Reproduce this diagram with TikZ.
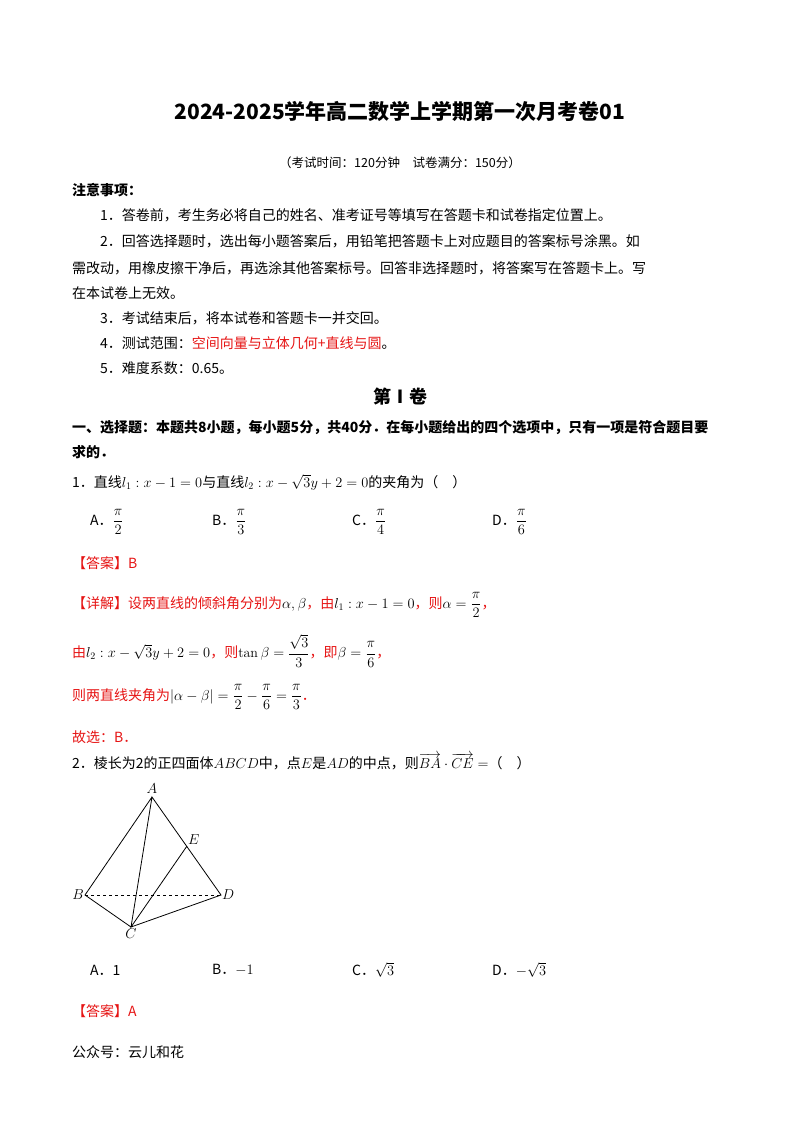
\documentclass[tikz,border=0pt]{standalone}
\usepackage{fontspec}
\usepackage{amsmath}
\newfontfamily\cjk{Noto Sans CJK SC}
\definecolor{ansred}{RGB}{230,20,20}
\begin{document}
\begin{tikzpicture}[x=1pt,y=-1pt,
  tx/.style={anchor=west,inner sep=0pt,font=\cjk\fontsize{14}{17}\selectfont},
  rd/.style={tx,text=ansred},
  ln/.style={line width=0.8pt}]
\useasboundingbox (0,0) rectangle (800,1132);
\node[anchor=center,inner sep=0pt,font=\cjk\bfseries\fontsize{21}{25}\selectfont] (title) at (400,112) {2024-2025学年高二数学上学期第一次月考卷01};
\node[anchor=center,inner sep=0pt,font=\cjk\fontsize{12.5}{15}\selectfont] (sub) at (400,163) {（考试时间：120分钟\quad 试卷满分：150分）};
\node[tx,font=\cjk\bfseries\fontsize{14}{17}\selectfont] (n0) at (72,190) {注意事项：};
\node[tx] (n1) at (100,215) {1．答卷前，考生务必将自己的姓名、准考证号等填写在答题卡和试卷指定位置上。};
\node[tx] (n2) at (100,241) {2．回答选择题时，选出每小题答案后，用铅笔把答题卡上对应题目的答案标号涂黑。如};
\node[tx] (n2b) at (72,268) {需改动，用橡皮擦干净后，再选涂其他答案标号。回答非选择题时，将答案写在答题卡上。写};
\node[tx] (n2c) at (72,293) {在本试卷上无效。};
\node[tx] (n3) at (100,318) {3．考试结束后，将本试卷和答题卡一并交回。};
\node[tx] (n4) at (100,343) {4．测试范围：\textcolor{ansred}{空间向量与立体几何+直线与圆}。};
\node[tx] (n5) at (100,368) {5．难度系数：0.65。};
\node[anchor=center,inner sep=0pt,font=\cjk\bfseries\fontsize{18}{21}\selectfont] (juan) at (400,397) {第Ⅰ卷};
\node[tx,font=\cjk\bfseries\fontsize{14}{17}\selectfont] (s1) at (72,428) {一、选择题：本题共8小题，每小题5分，共40分．在每小题给出的四个选项中，只有一项是符合题目要};
\node[tx,font=\cjk\bfseries\fontsize{14}{17}\selectfont] (s1b) at (72,452) {求的．};
\node[tx] (q1) at (72,482) {1．直线$l_1:x-1=0$与直线$l_2:x-\sqrt{3}y+2=0$的夹角为（\quad ）};
\node[tx] (o1a) at (90,522) {A．$\dfrac{\pi}{2}$};
\node[tx] (o1b) at (212,522) {B．$\dfrac{\pi}{3}$};
\node[tx] (o1c) at (352,522) {C．$\dfrac{\pi}{4}$};
\node[tx] (o1d) at (492,522) {D．$\dfrac{\pi}{6}$};
\node[rd] (a1) at (72,563) {【答案】B};
\node[rd] (d1) at (72,605) {【详解】设两直线的倾斜角分别为\textcolor{black}{$\alpha,\beta$}，由\textcolor{black}{$l_1:x-1=0$}，则\textcolor{black}{$\alpha=\dfrac{\pi}{2}$}，};
\node[rd] (d2) at (72,651) {由\textcolor{black}{$l_2:x-\sqrt{3}y+2=0$}，则\textcolor{black}{$\tan\beta=\dfrac{\sqrt{3}}{3}$}，即\textcolor{black}{$\beta=\dfrac{\pi}{6}$}，};
\node[rd] (d3) at (72,697) {则两直线夹角为\textcolor{black}{$|\alpha-\beta|=\dfrac{\pi}{2}-\dfrac{\pi}{6}=\dfrac{\pi}{3}$}．};
\node[rd] (g1) at (72,737) {故选：B．};
\node[tx] (q2) at (72,762) {2．棱长为2的正四面体$ABCD$中，点$E$是$AD$的中点，则$\overrightarrow{BA}\cdot\overrightarrow{CE}=$（\quad ）};
\coordinate (A) at (152,797);
\coordinate (B) at (85,895);
\coordinate (C) at (131,927);
\coordinate (D) at (221,895);
\coordinate (E) at (187,846);
\draw[ln] (A)--(B)--(C)--(D)--(A)--(C)--(E);
\draw[ln,dashed] (B)--(D);
\node[font=\fontsize{14}{17}\selectfont,above] (lA) at (A) {$A$};
\node[font=\fontsize{14}{17}\selectfont,above right,inner sep=1pt] (lE) at (E) {$E$};
\node[font=\fontsize{14}{17}\selectfont,left,inner sep=1pt] (lB) at (B) {$B$};
\node[font=\fontsize{14}{17}\selectfont,right,inner sep=1pt] (lD) at (D) {$D$};
\node[font=\fontsize{14}{17}\selectfont,below,inner sep=1pt] (lC) at (C) {$C$};
\node[tx] (o2a) at (90,970) {A．1};
\node[tx] (o2b) at (212,970) {B．$-1$};
\node[tx] (o2c) at (352,970) {C．$\sqrt{3}$};
\node[tx] (o2d) at (492,970) {D．$-\sqrt{3}$};
\node[rd] (a2) at (72,1011) {【答案】A};
\node[tx] (gz) at (72,1052) {公众号：云儿和花};
\end{tikzpicture}
\end{document}
